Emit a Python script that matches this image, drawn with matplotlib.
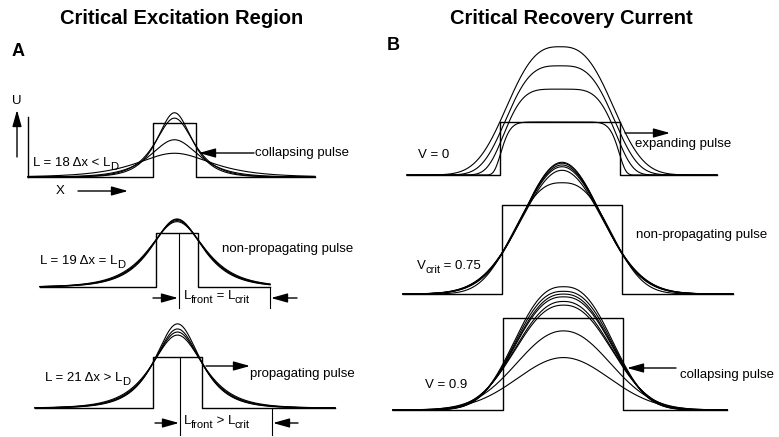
import numpy as np
import matplotlib
matplotlib.use("Agg")
import matplotlib.pyplot as plt
import matplotlib.transforms as mtransforms

plt.rcParams['font.family'] = ['Liberation Sans', 'DejaVu Sans']

# pulse heights in U (initial box height = 1), widths in lattice sites (dx)
a1_amp = [1.19, 1.09, 0.69, 0.44]
a1_wid = [6.5, 7.2, 9.0, 14.0]
a2_amp = [1.26, 1.25, 1.23, 1.21]
a2_wid = [10.2, 10.5, 10.8, 11.2]
a3_amp = [1.65, 1.55, 1.49, 1.43]
a3_wid = [8.6, 9.0, 9.4, 9.9]

b1_amp = [2.42, 2.06, 1.62, 1.0]
b1_wid = [26.2, 25.4, 25.0, 25.0]
b1_pow = [2.8, 3.3, 4.5, 10.0]
b2_amp = [1.48, 1.47, 1.45, 1.43, 1.39, 1.25]
b2_wid = [22.9, 23.1, 23.3, 23.5, 23.8, 25.0]
b2_pow = [2.0, 2.0, 2.0, 2.0, 2.0, 2.6]
b3_amp = [1.34, 1.29, 1.26, 1.23, 1.18, 1.14, 0.86, 0.57]
b3_wid = [25.4, 25.4, 25.5, 25.6, 25.8, 26.0, 26.5, 27.0]
b3_pow = [2.5, 2.5, 2.4, 2.4, 2.3, 2.3, 2.1, 2.0]

box_len_a = [18, 19, 21]   # L in dx
box_len_b = 50

fig = plt.figure(figsize=(7.79, 4.37), dpi=100)
ax = fig.add_axes([0, 0, 1, 1])
ax.set_xlim(0, 779)
ax.set_ylim(437, 0)
ax.axis('off')
renderer = fig.canvas.get_renderer()

# panel layout in pixels: centre x, baseline y, px per dx, px per U, baseline start/end
layout = {
    'a1': (174.5, 177, 2.39, 54, 28, 315),
    'a2': (177, 287, 2.21, 54, 40, 270),
    'a3': (177.5, 408, 2.33, 51, 35, 335),
    'b1': (560, 175, 2.4, 53, 407, 717),
    'b2': (562, 294, 2.4, 89, 403, 733),
    'b3': (563.5, 410, 2.4, 92, 393, 727),
}


def panel(key, L, amps, wids, pows=None):
    cx, base, sx, sy, x0, x1 = layout[key]
    tr = mtransforms.Affine2D().scale(sx, -sy).translate(cx, base) + ax.transData
    xl, xr = (x0 - cx) / sx, (x1 - cx) / sx
    h = L / 2
    ax.plot([xl, -h, -h, h, h, xr], [0, 0, 1, 1, 0, 0], color='k', lw=1.0, transform=tr)
    x = np.linspace(xl, xr, 600)
    for i, (a, w) in enumerate(zip(amps, wids)):
        if pows is None:
            y = a / np.cosh(x / w)
        else:
            y = a * np.exp(-np.abs(x / w) ** pows[i])
        ax.plot(x, y, color='k', lw=0.8, transform=tr)


panel('a1', box_len_a[0], a1_amp, a1_wid)
panel('a2', box_len_a[1], a2_amp, a2_wid)
panel('a3', box_len_a[2], a3_amp, a3_wid)
panel('b1', box_len_b, b1_amp, b1_wid, b1_pow)
panel('b2', box_len_b, b2_amp, b2_wid, b2_pow)
panel('b3', box_len_b, b3_amp, b3_wid, b3_pow)


def arrow(x0, y0, x1, y1):
    ax.annotate('', xy=(x1, y1), xytext=(x0, y0),
                arrowprops=dict(arrowstyle='-|>,head_length=1.0,head_width=0.28',
                                color='k', lw=1.0, shrinkA=0, shrinkB=0))


fs = 9.5


def label(x, y, parts):
    # parts: list of (text, is_subscript); pieces laid out left to right
    for s, sub in parts:
        t = ax.text(x, y + (4 if sub else 0), s, ha='left', va='center',
                    fontsize=fs * (0.85 if sub else 1.0), clip_on=False)
        bb = t.get_window_extent(renderer)
        x = bb.x1 - 0.5


# titles
ax.text(182, 18, 'Critical Excitation Region', ha='center', va='center', fontsize=14.5, fontweight='bold')
ax.text(571, 18, 'Critical Recovery Current', ha='center', va='center', fontsize=14.5, fontweight='bold')
ax.text(12, 51, 'A', ha='left', va='center', fontsize=13, fontweight='bold')
ax.text(387, 46, 'B', ha='left', va='center', fontsize=13, fontweight='bold')

# axes hint in A
ax.plot([28, 28], [117, 177], color='k', lw=1.0)
ax.text(17, 101, 'U', ha='center', va='center', fontsize=fs)
arrow(17, 157, 17, 110)
ax.text(60, 191, 'X', ha='center', va='center', fontsize=fs)
arrow(78, 191, 128, 191)

label(33, 163, [('L = 18 Δx < L', False), ('D', True)])
ax.text(255, 153, 'collapsing pulse', ha='left', va='center', fontsize=fs)
arrow(254, 153, 199, 153)

ax.text(222, 249, 'non-propagating pulse', ha='left', va='center', fontsize=fs)
label(40, 261, [('L = 19 Δx = L', False), ('D', True)])
ax.plot([179, 179], [233, 308], color='k', lw=0.8)
ax.plot([270, 270], [287, 308], color='k', lw=0.8)
arrow(153, 298, 178, 298)
label(184, 296, [('L', False), ('front', True), (' = L', False), ('crit', True)])
arrow(297, 298, 271, 298)

ax.text(250, 374, 'propagating pulse', ha='left', va='center', fontsize=fs)
arrow(206, 366, 250, 366)
label(45, 378, [('L = 21 Δx > L', False), ('D', True)])
ax.plot([180, 180], [357, 435], color='k', lw=0.8)
ax.plot([272, 272], [408, 435], color='k', lw=0.8)
arrow(155, 423, 179, 423)
label(184, 421, [('L', False), ('front', True), (' > L', False), ('crit', True)])
arrow(298, 423, 273, 423)

# B labels
ax.text(418, 155, 'V = 0', ha='left', va='center', fontsize=fs)
ax.text(635, 144, 'expanding pulse', ha='left', va='center', fontsize=fs)
arrow(625, 133, 670, 133)
ax.text(636, 235, 'non-propagating pulse', ha='left', va='center', fontsize=fs)
label(417, 266, [('V', False), ('crit', True), (' = 0.75', False)])
ax.text(425, 385, 'V = 0.9', ha='left', va='center', fontsize=fs)
ax.text(680, 375, 'collapsing pulse', ha='left', va='center', fontsize=fs, clip_on=False)
arrow(676, 368, 627, 368)

fig.savefig('out.png', dpi=100)
